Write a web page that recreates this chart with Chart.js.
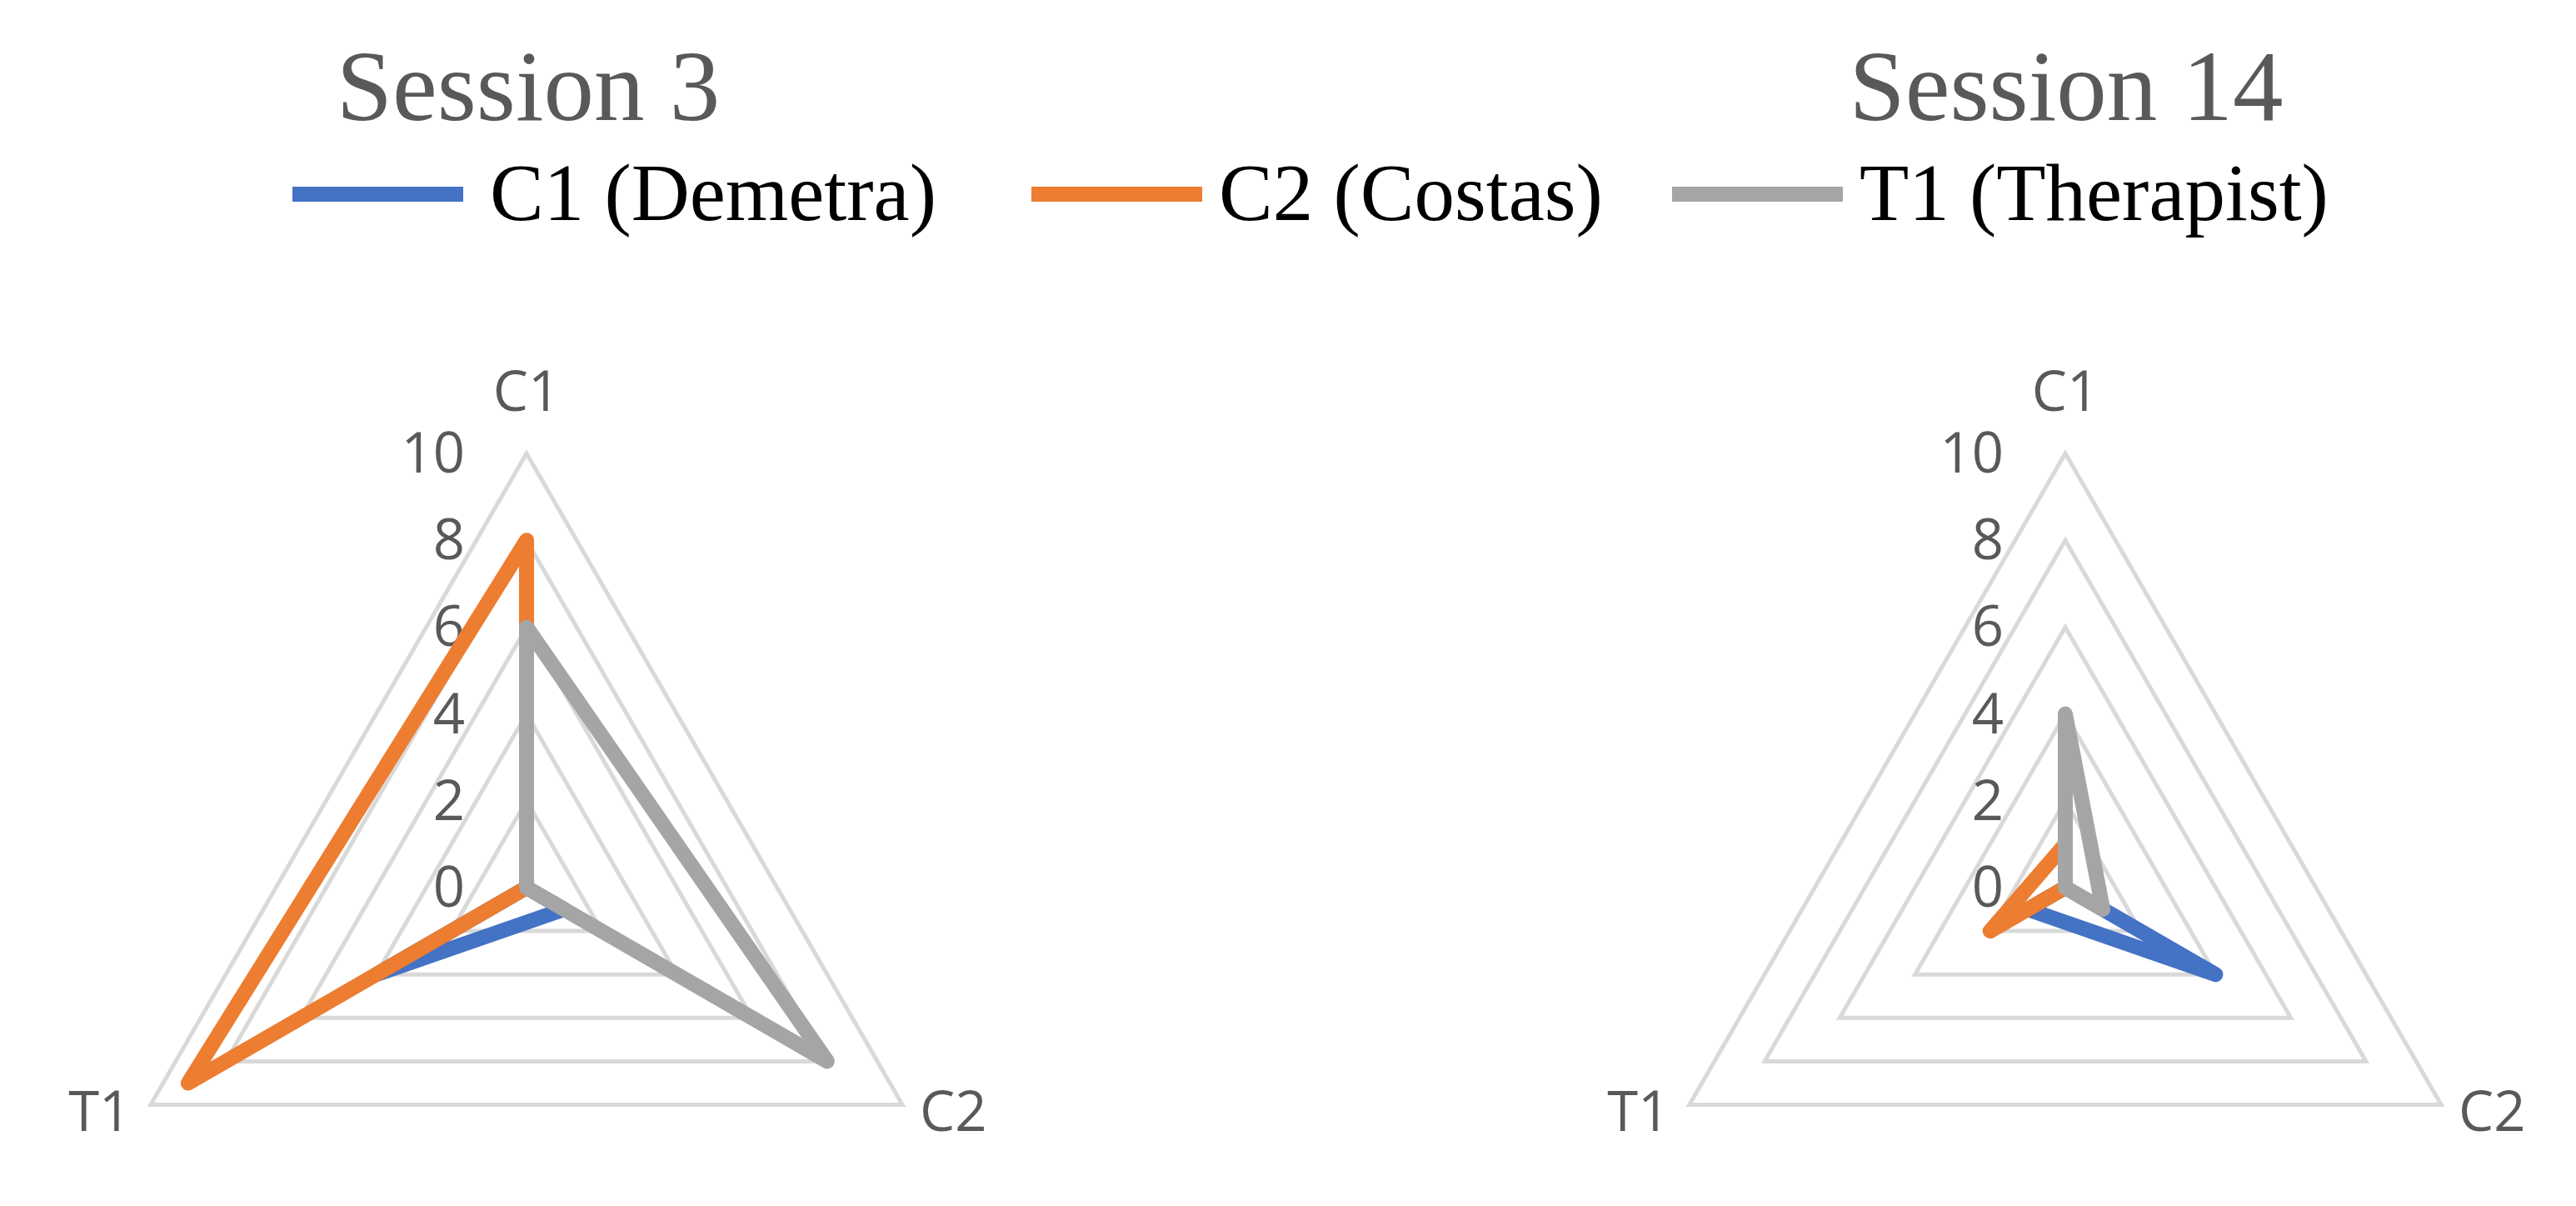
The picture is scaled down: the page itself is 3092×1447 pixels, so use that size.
<!DOCTYPE html>
<html>
<head>
<meta charset="utf-8">
<script src="https://cdn.jsdelivr.net/npm/chart.js@4.4.1/dist/chart.umd.min.js"></script>
<style>
  html, body {
    margin: 0;
    padding: 0;
    width: 3092px;
    height: 1447px;
    overflow: hidden;
    background: #ffffff;
  }
  .title {
    position: absolute;
    top: 43px;
    width: 800px;
    text-align: center;
    font-family: "Liberation Serif", "DejaVu Serif", serif;
    font-size: 121px;
    line-height: 121px;
    color: #595959;
    white-space: nowrap;
  }
  .swatch {
    position: absolute;
    top: 224px;
    height: 18px;
  }
  .legend-text {
    position: absolute;
    top: 183px;
    font-family: "Liberation Serif", "DejaVu Serif", serif;
    font-size: 97px;
    line-height: 97px;
    color: #000000;
    white-space: nowrap;
  }
  canvas {
    position: absolute;
    top: 0;
  }
</style>
</head>
<body>
<div class="title" style="left: 234px;">Session 3</div>
<div class="title" style="left: 2080px;">Session 14</div>

<div id="legend"></div>

<canvas id="chart-s3" width="1264" height="1600" style="left: 0px;"></canvas>
<canvas id="chart-s14" width="1264" height="1600" style="left: 1847px;"></canvas>

<script>
const axisLabels = ['C1', 'C2', 'T1'];
const tickValues = [0, 2, 4, 6, 8, 10];

const seriesNames = ['C1 (Demetra)', 'C2 (Costas)', 'T1 (Therapist)'];
const seriesColors = ['#4472C4', '#ED7D31', '#A5A5A5'];

// values per axis: C1, C2, T1
const session3Demetra = [0, 1, 4];
const session3Costas = [8, 0, 9];
const session3Therapist = [6, 8, 0];

const session14Demetra = [0, 4, 1];
const session14Costas = [1, 0, 2];
const session14Therapist = [4, 1, 0];

// legend (html)
const legendPos = [
    { swatch: 351, text: 588 },
    { swatch: 1238, text: 1463 },
    { swatch: 2007, text: 2232 }
];
const legend = document.getElementById('legend');
seriesNames.forEach((name, i) => {
    const sw = document.createElement('div');
    sw.className = 'swatch';
    sw.style.left = legendPos[i].swatch + 'px';
    sw.style.width = '205px';
    sw.style.background = seriesColors[i];
    legend.appendChild(sw);

    const txt = document.createElement('div');
    txt.className = 'legend-text';
    txt.style.left = legendPos[i].text + 'px';
    txt.textContent = name;
    legend.appendChild(txt);
});

// tick numbers + axis names, placed through the r scale
const radarLabels = {
    id: 'radarLabels',
    beforeDatasetsDraw(chart) {
        const scale = chart.scales.r;
        const ctx = chart.ctx;
        ctx.save();
        ctx.fillStyle = '#595959';
        ctx.font = '67px "Open Sans", "Liberation Sans", sans-serif';
        ctx.textAlign = 'right';
        ctx.textBaseline = 'middle';
        tickValues.forEach(v => {
            const p = scale.getPointPositionForValue(0, v);
            ctx.fillText(String(v), p.x - 74, p.y + 4);
        });
        ctx.textAlign = 'center';
        axisLabels.forEach((label, i) => {
            if (i === 0) {
                const p = scale.getPointPosition(i, scale.drawingArea + 70);
                ctx.fillText(label, p.x, p.y);
            } else {
                // bottom corners: label sits beside the outer vertex
                const p = scale.getPointPosition(i, scale.drawingArea);
                const side = p.x > scale.xCenter ? 1 : -1;
                ctx.fillText(label, p.x + side * 61, p.y + 12);
            }
        });
        ctx.restore();
    }
};

function makeRadar(canvasId, demetra, costas, therapist) {
    const values = [demetra, costas, therapist];
    const ctx = document.getElementById(canvasId).getContext('2d');
    return new Chart(ctx, {
        type: 'radar',
        data: {
            labels: axisLabels,
            datasets: values.map((data, i) => ({
                label: seriesNames[i],
                data: data,
                borderColor: seriesColors[i],
                backgroundColor: 'transparent',
                borderWidth: 18,
                borderJoinStyle: 'round',
                borderCapStyle: 'round',
                pointRadius: 0,
                pointHoverRadius: 0,
                fill: false,
                order: 3 - i
            }))
        },
        options: {
            responsive: false,
            animation: false,
            devicePixelRatio: 1,
            layout: {
                padding: { left: 111, right: 111, top: 544, bottom: 14 }
            },
            plugins: {
                legend: { display: false },
                tooltip: { enabled: false }
            },
            scales: {
                r: {
                    min: 0,
                    max: 10,
                    ticks: { stepSize: 2, display: false },
                    grid: { color: '#D9D9D9', lineWidth: 5 },
                    angleLines: { display: false },
                    pointLabels: { display: false }
                }
            }
        },
        plugins: [radarLabels]
    });
}

makeRadar('chart-s3', session3Demetra, session3Costas, session3Therapist);
makeRadar('chart-s14', session14Demetra, session14Costas, session14Therapist);
</script>
</body>
</html>
